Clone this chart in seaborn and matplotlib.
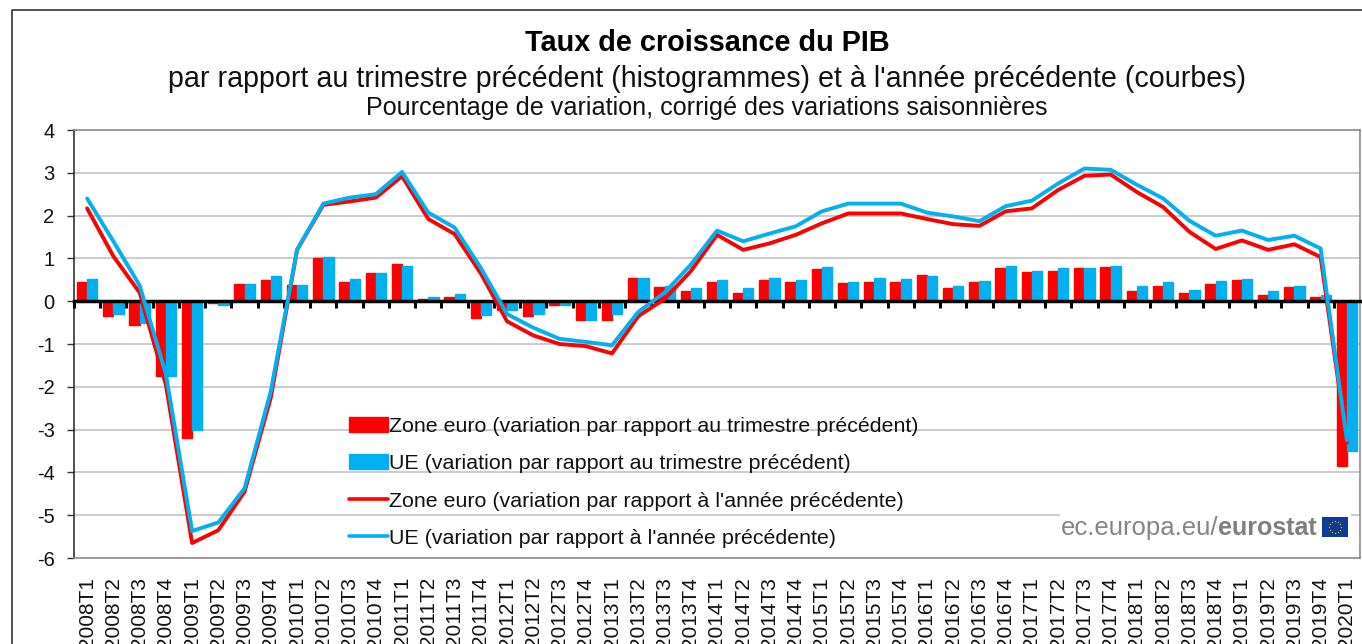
"""Taux de croissance du PIB, zone euro et UE (Eurostat)."""

import numpy as np
import pandas as pd
import matplotlib
matplotlib.use("Agg")
import matplotlib.pyplot as plt
from matplotlib.lines import Line2D
from matplotlib.patches import Patch, Rectangle
import seaborn as sns

quarters = [f"{y}T{q}" for y in range(2008, 2020) for q in range(1, 5)] + ["2020T1"]

ea_qoq = [0.45, -0.35, -0.55, -1.75, -3.2, -0.05, 0.4, 0.5, 0.37, 1.0, 0.45, 0.65, 0.87,
          0.05, 0.1, -0.4, -0.2, -0.35, -0.1, -0.45, -0.45, 0.55, 0.33, 0.25, 0.45, 0.2,
          0.5, 0.45, 0.75, 0.42, 0.45, 0.45, 0.62, 0.3, 0.45, 0.78, 0.68, 0.7, 0.78, 0.8,
          0.25, 0.35, 0.2, 0.4, 0.5, 0.15, 0.33, 0.1, -3.85]
eu_qoq = [0.52, -0.3, -0.5, -1.75, -3.0, -0.1, 0.4, 0.58, 0.37, 1.03, 0.52, 0.65, 0.83,
          0.1, 0.17, -0.33, -0.2, -0.3, -0.1, -0.45, -0.3, 0.55, 0.35, 0.3, 0.5, 0.3,
          0.55, 0.5, 0.8, 0.45, 0.55, 0.52, 0.58, 0.35, 0.47, 0.83, 0.7, 0.78, 0.78, 0.83,
          0.35, 0.45, 0.27, 0.47, 0.52, 0.25, 0.35, 0.15, -3.5]
ea_yoy = [2.17, 1.05, 0.2, -1.95, -5.65, -5.35, -4.45, -2.25, 1.2, 2.25, 2.33, 2.42, 2.92,
          1.92, 1.57, 0.65, -0.47, -0.8, -1.0, -1.05, -1.22, -0.35, 0.05, 0.7, 1.55, 1.2,
          1.35, 1.55, 1.82, 2.05, 2.05, 2.05, 1.92, 1.8, 1.76, 2.1, 2.17, 2.6, 2.93, 2.96,
          2.55, 2.2, 1.62, 1.22, 1.42, 1.2, 1.33, 1.03, -3.3]
eu_yoy = [2.4, 1.4, 0.37, -1.7, -5.37, -5.17, -4.37, -2.1, 1.2, 2.28, 2.42, 2.5, 3.02,
          2.07, 1.72, 0.78, -0.3, -0.62, -0.88, -0.95, -1.03, -0.25, 0.2, 0.85, 1.65, 1.4,
          1.58, 1.75, 2.1, 2.28, 2.28, 2.28, 2.07, 1.98, 1.87, 2.22, 2.35, 2.75, 3.1, 3.07,
          2.72, 2.4, 1.88, 1.53, 1.65, 1.43, 1.53, 1.23, -3.25]

legend_labels = [
    "Zone euro (variation par rapport au trimestre précédent)",
    "UE (variation par rapport au trimestre précédent)",
    "Zone euro (variation par rapport à l'année précédente)",
    "UE (variation par rapport à l'année précédente)",
]

RED = "#ff0000"
BLUE = "#00b0f0"
W, H = 1362, 644


def fx(px):
    return px / W


def fy(px):
    return 1 - px / H


sns.set_theme(style="white")
plt.rcParams["font.family"] = ["Liberation Sans", "DejaVu Sans"]
plt.rcParams["axes.unicode_minus"] = False

bars = pd.DataFrame({
    "quarter": quarters * 2,
    "value": ea_qoq + eu_qoq,
    "zone": ["Zone euro"] * len(quarters) + ["UE"] * len(quarters),
})
pos = np.arange(len(quarters))

fig = plt.figure(figsize=(W / 100, H / 100), dpi=100)
ax = fig.add_axes([fx(74), fy(558), fx(1360 - 74), (558 - 130) / H])

ax.set_axisbelow(True)
ax.grid(axis="y", color="#c8c8c8", lw=1.3)
sns.barplot(data=bars, x="quarter", y="value", hue="zone", order=quarters,
            palette={"Zone euro": RED, "UE": BLUE}, width=0.78, gap=0, saturation=1,
            legend=False, ax=ax, zorder=2)
for bar in ax.patches:
    bar.set_edgecolor(bar.get_facecolor())
    bar.set_linewidth(1)
sns.lineplot(x=pos, y=ea_yoy, color=RED, lw=2.8, ax=ax, zorder=3, sort=False)
sns.lineplot(x=pos, y=eu_yoy, color=BLUE, lw=2.8, ax=ax, zorder=4, sort=False)

ax.set_xlim(-0.5, len(quarters) - 0.5)
ax.set_ylim(-6, 4)
ax.set_xlabel("")
ax.set_ylabel("")
ax.set_yticks(range(-6, 5))
ax.set_xticks(pos)
ax.set_xticklabels(quarters, rotation=90, fontsize=15, color="#111111")
ax.tick_params(axis="x", length=0, pad=13.5)
ax.tick_params(axis="y", length=5, width=1, color="#333333", left=True, labelsize=14.5,
               labelcolor="#111111", pad=9)

for side in ["top", "right", "bottom"]:
    ax.spines[side].set_color("#8c8c8c")
    ax.spines[side].set_linewidth(1.2)
ax.spines["left"].set_color("#222222")
ax.spines["left"].set_linewidth(1.1)

# zero line with its tick marks between quarters
zero = ax.secondary_xaxis(0.6)
zero.set_alignment("bottom")
zero.set_xticks(pos - 0.5, labels=[])
zero.tick_params(axis="x", length=4.7, width=2.2, color="black")
zero.spines["bottom"].set_color("black")
zero.spines["bottom"].set_linewidth(2.5)
zero.set_zorder(2.5)

handles = [Patch(color=RED), Patch(color=BLUE),
           Line2D([], [], color=RED, lw=2.6), Line2D([], [], color=BLUE, lw=2.6)]
ax.legend(handles, legend_labels, loc="upper left", bbox_to_anchor=(0.2138, 0.329),
          frameon=False, fontsize=15.4, labelspacing=0.85, handlelength=1.82, handleheight=0.7,
          handletextpad=0.05, labelcolor="#111111", borderaxespad=0, borderpad=0)

# titles
fig.text(fx(707), fy(43), "Taux de croissance du PIB", ha="center", va="center",
         fontsize=20.8, fontweight="bold", color="black")
fig.text(fx(707), fy(79), "par rapport au trimestre précédent (histogrammes) et à l'année précédente (courbes)",
         ha="center", va="center", fontsize=20.6, color="#111111")
fig.text(fx(707), fy(108), "Pourcentage de variation, corrigé des variations saisonnières",
         ha="center", va="center", fontsize=18.1, color="#111111")

# outer frame
fig.add_artist(Line2D([fx(12), fx(12), 1], [0, fy(10), fy(10)], color="#333333", lw=1.2))

# eurostat mark
fig.patches.append(Rectangle((fx(1060), fy(556)), fx(291), 45 / H, transform=fig.transFigure,
                             facecolor="white", edgecolor="none", zorder=6))
fig.text(fx(1061), fy(528), "ec.europa.eu/", ha="left", va="center", fontsize=18.5,
         color="#858585", zorder=7)
fig.text(fx(1218), fy(528), "eurostat", ha="left", va="center", fontsize=18,
         fontweight="bold", color="#7f7f7f", zorder=7)
flag = fig.add_axes([fx(1322), fy(537), fx(26), 20 / H], zorder=8)
flag.set_facecolor("#0b3c9a")
flag.set_xticks([])
flag.set_yticks([])
flag.set_xlim(-1.3, 1.3)
flag.set_ylim(-1, 1)
for s in flag.spines.values():
    s.set_visible(False)
angles = np.linspace(0, 2 * np.pi, 12, endpoint=False)
flag.scatter(0.62 * np.cos(angles), 0.62 * np.sin(angles), s=2.2, color="#ffd400", marker="*", lw=0)

fig.savefig("out.png", dpi=100)
